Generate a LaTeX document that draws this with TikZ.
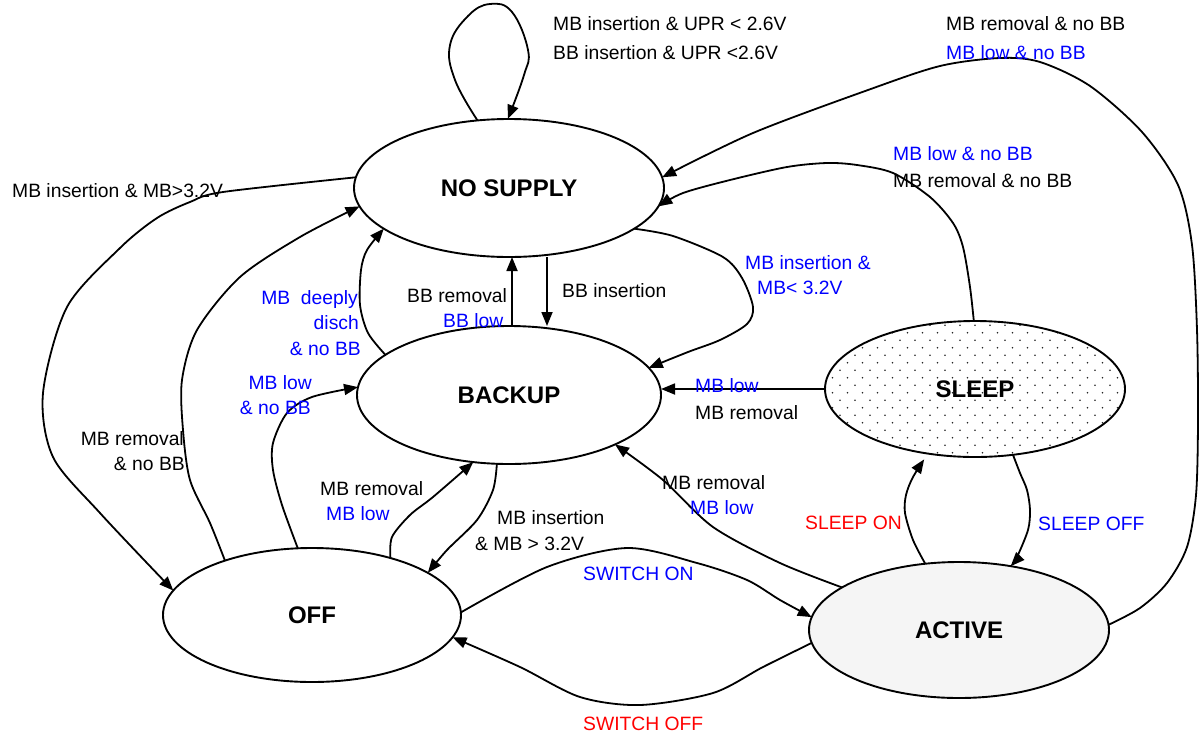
\documentclass[tikz,border=0pt]{standalone}
\usepackage{fontspec}
\setmainfont{Liberation Sans}
\usetikzlibrary{shapes.geometric,arrows.meta,calc}
\definecolor{lblue}{RGB}{0,0,255}
\definecolor{lred}{RGB}{255,0,0}
\begin{document}
\begin{tikzpicture}[x=1pt,y=-1pt,
  state/.style={ellipse, draw, line width=1.9pt, inner sep=0pt, outer sep=0pt,
    font=\fontsize{24}{28}\selectfont\bfseries},
  lbl/.style={inner sep=0pt, font=\fontsize{19.3}{23}\selectfont},
  bl/.style={lbl, text=lblue},
  rd/.style={lbl, text=lred},
  arr/.style={-{Triangle[length=14pt,width=11pt]}, line width=1.8pt},
  sleepdots/.style={path picture={
    \foreach \r in {0,...,19}{\foreach \c in {0,...,21}{
      \fill[black!85] ([shift={({(\c-10.5)*15+mod(\r,2)*7.5},{(\r-9.5)*7.5})}]path picture bounding box.center) circle (0.9pt);}}}}
]
\useasboundingbox (0,0) rectangle (1201,734);

% states
\node[state, minimum width=310pt, minimum height=138pt] (ns) at (509,188) {NO SUPPLY};
\node[state, minimum width=304pt, minimum height=138pt] (bk) at (509,395) {BACKUP};
\node[state, sleepdots, minimum width=300pt, minimum height=136pt] (sl) at (975,389) {SLEEP};
\node[state, minimum width=298pt, minimum height=134pt] (off) at (312,615) {OFF};
\node[state, fill=black!4, minimum width=300pt, minimum height=136pt] (ac) at (959,630) {ACTIVE};

% connectors
\draw[arr] plot[smooth,tension=0.7] coordinates {(ns.115) (455,80) (450,45) (468,16) (490,4) (512,12) (528,50) (524,75) (ns.91)};
\draw[arr] plot[smooth] coordinates {(ac.2) (1140,608) (1167,583) (1187,547) (1196,495) (1198,420) (1197,330) (1192,245) (1178,185) (1142,132) (1090,86) (1040,62) (1000,58) (940,66) (868,90) (753,133) (ns.4)};
\draw[arr] plot[smooth] coordinates {(sl.91) (970,287) (963,247) (953,223) (930,197) (893,173) (857,165) (827,163) (787,167) (730,180) (683,193) (ns.-7)};
\draw[arr] plot[smooth] coordinates {(ns.-18) (673,236) (723,257) (742,278) (753,307) (747,324) (720,340) (688,352) (bk.11)};
\draw[arr] ([xshift=3pt]bk.north) -- ([xshift=3pt]ns.south);
\draw[arr] ([xshift=38pt]ns.south) -- ([xshift=38pt]bk.north);
\draw[arr] plot[smooth] coordinates {(bk.162) (368,333) (360,305) (361,270) (367,250) (ns.198)};
\draw[arr] plot[smooth] coordinates {(off.148) (210,523) (190,480) (183,430) (182,380) (197,330) (240,277) (300,237) (ns.187)};
\draw[arr] plot[smooth] coordinates {(ns.176) (223,192) (190,202) (157,218) (120,248) (67,307) (43,393) (53,457) (100,513) (off.170)};
\draw[arr] plot[smooth] coordinates {(off.102) (282,505) (273,470) (273,443) (287,413) (312,397) (bk.177)};
\draw[arr] plot[smooth] coordinates {(off.36) (392,537) (410,515) (433,497) (bk.-118)};
\draw[arr] plot[smooth] coordinates {(bk.-100) (493,490) (477,520) (447,550) (off.20)};
\draw[arr] plot[smooth] coordinates {(ac.160) (780,563) (713,527) (663,480) (bk.-25)};
\draw[arr] plot[smooth] coordinates {(off.1) (547,567) (627,548) (697,563) (747,580) (780,600) (ac.175)};
\draw[arr] plot[smooth] coordinates {(ac.185) (763,667) (713,693) (640,705) (580,697) (520,667) (off.-9)};
\draw[arr, shorten >=7pt] plot[smooth] coordinates {(ac.117) (913,540) (905,513) (906,495) (913,477) (sl.234)};
\draw[arr] plot[smooth] coordinates {(sl.-60) (1020,473) (1027,490) (1030,510) (1028,530) (1017,557) (ac.51)};
\draw[arr] (sl.west) -- (sl.west -| bk.east);

% labels
\node[lbl, anchor=base west] (t1) at (553,30) {MB insertion \& UPR < 2.6V};
\node[lbl, anchor=base west] (t2) at (553,59) {BB insertion \& UPR <2.6V};
\node[lbl, anchor=base west] (t3) at (946,30) {MB removal \& no BB};
\node[bl, anchor=base west] (t4) at (946,59) {MB low \& no BB};
\node[bl, anchor=base west] (t5) at (893,160) {MB low \& no BB};
\node[lbl, anchor=base west] (t6) at (893,187) {MB removal \& no BB};
\node[lbl, anchor=base west] (t7) at (12,197) {MB insertion \& MB>3.2V};
\node[bl, anchor=base west] (t8) at (745,269) {MB insertion \&};
\node[bl, anchor=base west] (t9) at (757,294) {MB< 3.2V};
\node[lbl, anchor=base west] (t10) at (562,297) {BB insertion};
\node[lbl, anchor=base west] (t11) at (407,302) {BB removal};
\node[bl, anchor=base west] (t12) at (443,327) {BB low};
\node[bl, anchor=base east] (t13) at (358,304) {MB\ \ deeply};
\node[bl, anchor=base east] (t14) at (359,329) {disch};
\node[bl, anchor=base east] (t15) at (361,355) {\& no BB};
\node[bl, anchor=base east] (t16) at (312,389) {MB low};
\node[bl, anchor=base east] (t17) at (311,414) {\& no BB};
\node[lbl, anchor=base east] (t18) at (184,445) {MB removal};
\node[lbl, anchor=base east] (t19) at (185,470) {\& no BB};
\node[bl, anchor=base west] (t20) at (695,392) {MB low};
\node[lbl, anchor=base west] (t21) at (695,419) {MB removal};
\node[lbl, anchor=base west] (t22) at (320,495) {MB removal};
\node[bl, anchor=base west] (t23) at (326,520) {MB low};
\node[lbl, anchor=base west] (t24) at (497,524) {MB insertion};
\node[lbl, anchor=base west] (t25) at (475,550) {\& MB > 3.2V};
\node[lbl, anchor=base west] (t26) at (662,489) {MB removal};
\node[bl, anchor=base west] (t27) at (690,514) {MB low};
\node[bl, anchor=base west] (t28) at (583,580) {SWITCH ON};
\node[rd, anchor=base west] (t29) at (583,730) {SWITCH OFF};
\node[rd, anchor=base west] (t30) at (805,529) {SLEEP ON};
\node[bl, anchor=base west] (t31) at (1038,530) {SLEEP OFF};
\end{tikzpicture}
\end{document}
